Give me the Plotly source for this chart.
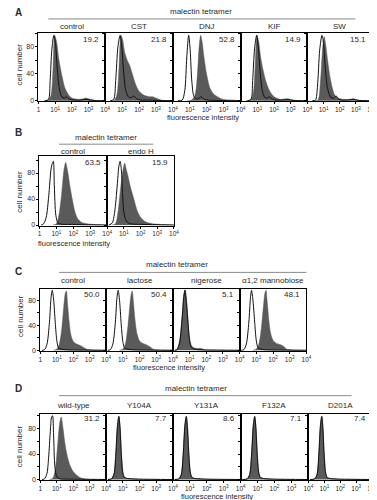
import plotly.graph_objects as go

W, H = 377, 500
FONT = "Liberation Sans, Arial, Helvetica, sans-serif"
TXT = "#2a2a2a"
GRAY = "#5a5a5a"

# ---------------- data (decade of fluorescence, cell number) ----------------
TICK_VALUES_FIRST = [1, 10, 100, 1000, 10000]
TICK_TEXT_FIRST = ["1", "10<sup>1</sup>", "10<sup>2</sup>", "10<sup>3</sup>", "10<sup>4</sup>"]
TICK_VALUES_REST = [10, 100, 1000, 10000]
TICK_TEXT_REST = ["10<sup>1</sup>", "10<sup>2</sup>", "10<sup>3</sup>", "10<sup>4</sup>"]
Y_TICKS = [0, 40, 80]
Y_TEXT = ["0", "40", "80"]

A_titles = ["control", "CST", "DNJ", "KIF", "SW"]
A_values = ["19.2", "21.8", "52.8", "14.9", "15.1"]
B_titles = ["control", "endo H"]
B_values = ["63.5", "15.9"]
C_titles = ["control", "lactose", "nigerose", "α1,2 mannobiose"]
C_values = ["50.0", "50.4", "5.1", "48.1"]
D_titles = ["wild-type", "Y104A", "Y131A", "F132A", "D201A"]
D_values = ["31.2", "7.7", "8.6", "7.1", "7.4"]

A_control_fill = [(0.3,0),(0.6,1),(0.75,8),(0.88,50),(0.97,97),(1.08,88),(1.22,62),(1.4,38),(1.6,18),(1.8,9),(2.0,4),(2.4,2),(2.7,3),(2.85,4),(3.0,3),(3.3,1),(4.0,0)]
A_control_line = [(0.4,0),(0.6,2),(0.7,30),(0.8,75),(0.92,97),(1.02,85),(1.12,50),(1.25,18),(1.4,6),(1.55,4),(1.68,6),(1.8,3),(2.0,1.5),(2.5,1),(2.8,2),(3.1,1),(3.6,0),(4.0,0)]
A_CST_fill = [(0.3,0),(0.55,1),(0.7,10),(0.82,50),(0.93,97),(1.03,90),(1.15,72),(1.3,60),(1.45,52),(1.6,40),(1.8,24),(2.0,14),(2.3,8),(2.6,6),(2.8,6),(3.0,4),(3.3,1),(4.0,0)]
A_CST_line = [(0.3,0),(0.5,2),(0.62,30),(0.75,80),(0.88,97),(0.98,80),(1.08,45),(1.22,15),(1.4,5),(1.55,5),(1.7,7),(1.85,3),(2.1,1),(2.6,1),(3.0,0.5),(4.0,0)]
A_DNJ_fill = [(0.8,0),(1.1,1),(1.3,8),(1.45,40),(1.55,80),(1.64,97),(1.72,88),(1.85,62),(2.0,38),(2.2,18),(2.4,10),(2.7,5),(3.0,2),(3.5,1),(4.0,0)]
A_DNJ_line = [(0.3,0),(0.55,1),(0.7,15),(0.82,65),(0.93,97),(1.02,75),(1.12,28),(1.25,6),(1.45,2),(1.65,6),(1.85,2),(2.1,1),(2.5,0.5),(4.0,0)]
A_KIF_fill = [(0.3,0),(0.6,1),(0.75,10),(0.88,55),(0.98,97),(1.08,88),(1.2,65),(1.35,45),(1.55,26),(1.75,14),(2.0,6),(2.4,2),(2.7,3),(2.85,3),(3.0,2),(3.3,0.5),(4.0,0)]
A_KIF_line = [(0.4,0),(0.62,2),(0.72,30),(0.84,78),(0.96,97),(1.06,80),(1.16,45),(1.3,15),(1.45,5),(1.6,4),(1.72,6),(1.85,3),(2.1,1),(2.8,1.5),(3.2,0.5),(4.0,0)]
A_SW_fill = [(0.4,0),(0.65,1),(0.8,25),(0.95,80),(1.04,95),(1.12,85),(1.25,60),(1.4,35),(1.55,18),(1.7,8),(1.9,4),(2.2,2),(2.6,2),(2.85,3),(3.1,1),(4.0,0)]
A_SW_line = [(0.3,0),(0.5,1),(0.62,20),(0.76,75),(0.9,97),(1.0,85),(1.1,50),(1.25,18),(1.45,5),(1.62,4),(1.78,7),(1.95,2),(2.4,1),(2.85,2),(3.2,0.5),(4.0,0)]

B_control_fill = [(0.8,0),(1.0,2),(1.15,15),(1.3,45),(1.45,85),(1.55,96),(1.65,85),(1.8,60),(1.95,38),(2.1,20),(2.25,10),(2.5,4),(2.8,2),(3.2,1),(4.0,0)]
B_control_line = [(0.1,0),(0.25,2),(0.4,12),(0.55,45),(0.68,85),(0.76,95),(0.82,98),(0.88,60),(0.97,15),(1.1,3),(1.4,1),(1.8,1),(2.5,0.5),(4.0,0)]
B_endoH_fill = [(0.3,0),(0.5,2),(0.65,20),(0.8,55),(0.95,85),(1.05,95),(1.12,88),(1.25,75),(1.4,58),(1.6,40),(1.8,22),(2.0,12),(2.3,5),(2.7,2),(3.2,1),(4.0,0)]
B_endoH_line = [(0.1,0),(0.3,3),(0.45,20),(0.6,60),(0.7,90),(0.78,98),(0.85,85),(0.92,50),(1.0,20),(1.15,6),(1.4,2),(2.0,1),(4.0,0)]

C_control_fill = [(0.8,0),(1.0,2),(1.15,10),(1.3,35),(1.42,70),(1.52,92),(1.58,95),(1.65,75),(1.75,45),(1.85,25),(2.0,14),(2.2,10),(2.4,8),(2.6,5),(2.8,2),(3.0,1),(4.0,0)]
C_control_line = [(0.1,0),(0.25,1),(0.4,10),(0.55,45),(0.65,85),(0.72,96),(0.8,82),(0.9,45),(1.0,15),(1.1,4),(1.25,2),(1.5,1),(2.0,0.5),(4.0,0)]
C_lactose_fill = [(0.8,0),(1.0,2),(1.15,10),(1.3,38),(1.42,72),(1.5,90),(1.56,95),(1.63,78),(1.73,48),(1.85,26),(2.0,15),(2.2,11),(2.4,9),(2.6,6),(2.8,2),(3.0,1),(4.0,0)]
C_lactose_line = [(0.1,0),(0.25,1),(0.4,10),(0.55,45),(0.65,85),(0.72,96),(0.8,80),(0.9,42),(1.0,14),(1.1,4),(1.25,2),(1.5,1),(2.0,0.5),(4.0,0)]
C_nigerose_fill = [(0.1,0),(0.25,2),(0.4,15),(0.55,55),(0.65,88),(0.73,97),(0.8,85),(0.9,50),(1.0,20),(1.1,8),(1.25,4),(1.5,3),(1.7,3),(1.9,1),(2.2,0.5),(4.0,0)]
C_nigerose_line = [(0.1,0),(0.25,1),(0.4,12),(0.55,50),(0.65,85),(0.72,96),(0.8,80),(0.9,45),(1.0,15),(1.1,5),(1.25,2),(1.5,1),(2.0,0.5),(4.0,0)]
C_mannobiose_fill = [(0.8,0),(1.0,2),(1.15,10),(1.3,35),(1.43,72),(1.52,92),(1.58,96),(1.65,78),(1.75,48),(1.85,28),(2.0,16),(2.2,11),(2.45,9),(2.65,6),(2.8,2),(3.0,1),(4.0,0)]
C_mannobiose_line = [(0.1,0),(0.25,1),(0.4,10),(0.55,45),(0.65,85),(0.71,96),(0.79,82),(0.9,45),(1.0,15),(1.1,4),(1.25,2),(1.5,1),(2.0,0.5),(4.0,0)]

D_wildtype_fill = [(0.55,0),(0.75,2),(0.9,15),(1.05,55),(1.18,90),(1.27,98),(1.35,85),(1.5,55),(1.65,35),(1.8,22),(2.0,12),(2.2,7),(2.4,3),(2.7,1),(3.0,0.5),(4.0,0)]
D_wildtype_line = [(0.1,0),(0.25,1),(0.4,10),(0.5,35),(0.6,75),(0.68,98),(0.74,100),(0.8,70),(0.88,20),(1.0,4),(1.2,1),(1.6,0.5),(2.5,0.3),(4.0,0)]
D_Y104A_fill = [(0.1,0),(0.3,1),(0.45,8),(0.57,40),(0.67,85),(0.76,99),(0.84,82),(0.92,40),(1.02,10),(1.12,3),(1.3,1.5),(1.6,1),(2.0,0.5),(4.0,0)]
D_Y104A_line = [(0.1,0),(0.32,1),(0.47,8),(0.58,40),(0.68,85),(0.76,99),(0.83,80),(0.91,38),(1.0,10),(1.1,3),(1.3,1.5),(1.6,1),(2.0,0.5),(4.0,0)]
D_Y131A_fill = [(0.1,0),(0.33,1),(0.48,8),(0.6,40),(0.7,85),(0.79,99),(0.87,82),(0.95,40),(1.05,10),(1.15,3),(1.33,1.5),(1.6,1),(2.0,0.5),(4.0,0)]
D_Y131A_line = [(0.1,0),(0.35,1),(0.5,8),(0.61,40),(0.71,85),(0.79,99),(0.86,80),(0.94,38),(1.03,10),(1.13,3),(1.33,1.5),(1.6,1),(2.0,0.5),(4.0,0)]
D_F132A_fill = [(0.1,0),(0.37,1),(0.52,8),(0.64,40),(0.74,85),(0.83,99),(0.91,82),(0.99,40),(1.09,10),(1.19,3),(1.37,1.5),(1.6,1),(2.0,0.5),(4.0,0)]
D_F132A_line = [(0.1,0),(0.39,1),(0.54,8),(0.65,40),(0.75,85),(0.83,99),(0.9,80),(0.98,38),(1.07,10),(1.17,3),(1.37,1.5),(1.6,1),(2.0,0.5),(4.0,0)]
D_D201A_fill = [(0.1,0),(0.38,1),(0.53,8),(0.65,40),(0.75,85),(0.84,99),(0.92,82),(1.0,40),(1.1,10),(1.2,3),(1.38,1.5),(1.6,1),(2.0,0.5),(4.0,0)]
D_D201A_line = [(0.1,0),(0.4,1),(0.55,8),(0.66,40),(0.76,85),(0.84,99),(0.91,80),(0.99,38),(1.08,10),(1.18,3),(1.38,1.5),(1.6,1),(2.0,0.5),(4.0,0)]

A_curves = [(A_control_fill, A_control_line), (A_CST_fill, A_CST_line), (A_DNJ_fill, A_DNJ_line),
            (A_KIF_fill, A_KIF_line), (A_SW_fill, A_SW_line)]
B_curves = [(B_control_fill, B_control_line), (B_endoH_fill, B_endoH_line)]
C_curves = [(C_control_fill, C_control_line), (C_lactose_fill, C_lactose_line),
            (C_nigerose_fill, C_nigerose_line), (C_mannobiose_fill, C_mannobiose_line)]
D_curves = [(D_wildtype_fill, D_wildtype_line), (D_Y104A_fill, D_Y104A_line), (D_Y131A_fill, D_Y131A_line),
            (D_F132A_fill, D_F132A_line), (D_D201A_fill, D_D201A_line)]

# ---------------- layout (pixel geometry) ----------------
panels = [
    dict(letter="A", letter_y=5, titles=A_titles, values=A_values, curves=A_curves,
         xs=[29, 97, 166, 235, 303, 369], y0=25, y1=94, ymax=100.7,
         head_y=4, line_y=11, line_x=(39, 352), head_x=195, sub_y=19, val_y=32,
         xt_x=197, xt_y=110, yt_y=57),
    dict(letter="B", letter_y=125, titles=B_titles, values=B_values, curves=B_curves,
         xs=[30, 99, 167], y0=149, y1=219, ymax=106,
         head_y=130, line_y=137, line_x=(50, 146), head_x=98, sub_y=144, val_y=155,
         xt_x=65, xt_y=236.5, yt_y=185),
    dict(letter="C", letter_y=265, titles=C_titles, values=C_values, curves=C_curves,
         xs=[31, 98, 166, 234, 302], y0=283, y1=345, ymax=97.6,
         head_y=258, line_y=266, line_x=(50, 302), head_x=170, sub_y=274, val_y=288,
         xt_x=162, xt_y=362, yt_y=310),
    dict(letter="D", letter_y=383, titles=D_titles, values=D_values, curves=D_curves,
         xs=[31, 98, 166, 235, 304, 369], y0=408, y1=475, ymax=103.5,
         head_y=383, line_y=390, line_x=(50, 348), head_x=190, sub_y=400, val_y=413,
         xt_x=211, xt_y=491.5, yt_y=441),
]

def px(x):
    return x / W

def py(y):
    return 1 - y / H

fig = go.Figure()
layout = dict(width=W, height=H, margin=dict(l=0, r=0, t=0, b=0),
              paper_bgcolor="white", plot_bgcolor="white", showlegend=False,
              font=dict(family=FONT, size=8, color=TXT))
annotations = []
shapes = []

def ann(text, x, y, size=8, xanchor="center", bold=False, angle=0):
    annotations.append(dict(text=("<b>%s</b>" % text) if bold else text,
                            x=px(x), y=py(y), xref="paper", yref="paper",
                            xanchor=xanchor, yanchor="middle", showarrow=False,
                            textangle=angle, borderpad=0,
                            font=dict(size=size, color=TXT, family=FONT)))

k = 0
for p in panels:
    n = len(p["titles"])
    for i in range(n):
        k += 1
        xn = "x" if k == 1 else "x%d" % k
        yn = "y" if k == 1 else "y%d" % k
        fill_pts, line_pts = p["curves"][i]
        fig.add_trace(go.Scatter(
            x=[10 ** d for d, c in fill_pts], y=[c for d, c in fill_pts],
            mode="lines", line=dict(color=GRAY, width=0.5, shape="spline", smoothing=0.8),
            fill="tozeroy", fillcolor=GRAY, xaxis=xn, yaxis=yn, hoverinfo="skip"))
        fig.add_trace(go.Scatter(
            x=[10 ** d for d, c in line_pts], y=[c for d, c in line_pts],
            mode="lines", line=dict(color="#111111", width=1, shape="spline", smoothing=0.8),
            xaxis=xn, yaxis=yn, hoverinfo="skip"))
        axcommon = dict(showline=True, mirror=True, linecolor="black", linewidth=1,
                        ticks="outside", ticklen=2, tickwidth=1, tickcolor="black",
                        showgrid=False, zeroline=False, fixedrange=True)
        layout["xaxis" if k == 1 else "xaxis%d" % k] = dict(
            type="log", range=[0, 4], domain=[px(p["xs"][i]), px(p["xs"][i + 1])],
            anchor=yn,
            tickvals=TICK_VALUES_FIRST if i == 0 else TICK_VALUES_REST,
            ticktext=TICK_TEXT_FIRST if i == 0 else TICK_TEXT_REST,
            tickfont=dict(size=6.5, color=TXT, family=FONT), **axcommon)
        layout["yaxis" if k == 1 else "yaxis%d" % k] = dict(
            range=[-1, p["ymax"]], domain=[py(p["y1"]), py(p["y0"])],
            anchor=xn, tickvals=Y_TICKS, ticktext=Y_TEXT, showticklabels=(i == 0),
            minor=dict(dtick=20, tick0=0, ticks="outside", ticklen=2, tickcolor="black"),
            tickfont=dict(size=7, color=TXT, family=FONT), **axcommon)
        cx = (p["xs"][i] + p["xs"][i + 1]) / 2
        ann(p["titles"][i], cx, p["sub_y"], size=8)
        ann(p["values"][i], p["xs"][i + 1] - 5, p["val_y"], size=8, xanchor="right")
    ann(p["letter"], 4, p["letter_y"], size=10, xanchor="left", bold=True)
    ann("malectin tetramer", p["head_x"], p["head_y"], size=8)
    shapes.append(dict(type="line", xref="paper", yref="paper",
                       x0=px(p["line_x"][0]), x1=px(p["line_x"][1]),
                       y0=py(p["line_y"]), y1=py(p["line_y"]),
                       line=dict(color="#8a8a8a", width=1)))
    ann("fluorescence intensity", p["xt_x"], p["xt_y"], size=7.5)
    ann("cell number", 10, p["yt_y"], size=8, angle=-90)

layout["annotations"] = annotations
layout["shapes"] = shapes
fig.update_layout(**layout)
fig.write_html("out.html")
